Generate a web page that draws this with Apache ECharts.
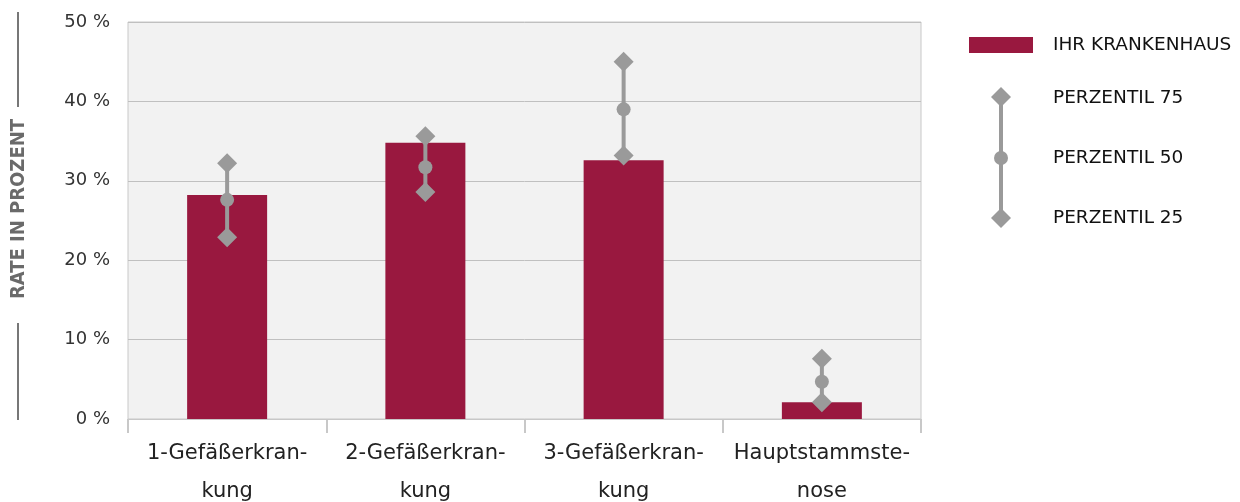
<!DOCTYPE html>
<html><head><meta charset="utf-8">
<script src="https://cdn.jsdelivr.net/npm/echarts@6/dist/echarts.min.js"></script>
<style>html,body{margin:0;padding:0;background:#fff}#c{width:1240px;height:502px}</style>
</head><body><div id="c"></div>
<script>
const categories = ['1-Gefäßerkran-\nkung', '2-Gefäßerkran-\nkung', '3-Gefäßerkran-\nkung', 'Hauptstammste-\nnose'];
const hospital = [28.2, 34.8, 32.6, 2.1];
const p75 = [32.2, 35.6, 45.0, 7.6];
const p50 = [27.6, 31.7, 39.0, 4.7];
const p25 = [22.9, 28.6, 33.2, 2.1];
const yTicks = [0, 10, 20, 30, 40, 50];

const GRAY = '#9a9a9a';
const BAR = '#99183f';
const FONT = 'DejaVu Sans';

const chart = echarts.init(document.getElementById('c'), null, {renderer: 'canvas'});
chart.setOption({
  animation: false,
  textStyle: {fontFamily: FONT},
  grid: {left: 128, right: 319, top: 22, bottom: 83, containLabel: false, outerBoundsMode: 'none',
    show: true, backgroundColor: '#f2f2f2', borderColor: '#c8c8c8', borderWidth: 1},
  xAxis: {
    type: 'category', data: categories,
    axisLine: {lineStyle: {color: '#c8c8c8', width: 1}},
    axisTick: {show: true, length: 14, lineStyle: {color: '#c8c8c8', width: 2}},
    axisLabel: {interval: 0, fontSize: 21, color: '#222', lineHeight: 38, margin: 16, fontFamily: FONT}
  },
  yAxis: {
    type: 'value', min: yTicks[0], max: yTicks[yTicks.length - 1], interval: 10,
    axisLine: {show: false}, axisTick: {show: false},
    splitLine: {lineStyle: {color: '#c0c0c0', width: 1}},
    axisLabel: {formatter: '{value} %', fontSize: 18, color: '#333', margin: 18, fontFamily: FONT}
  },
  series: [
    {name: 'IHR KRANKENHAUS', type: 'bar', data: hospital, barWidth: 80, itemStyle: {color: BAR}},
    {name: 'range', type: 'custom', z: 3,
      data: categories.map((c, i) => [i, p25[i], p75[i]]),
      renderItem: function (params, api) {
        const a = api.coord([api.value(0), api.value(1)]);
        const b = api.coord([api.value(0), api.value(2)]);
        return {type: 'line', shape: {x1: a[0], y1: a[1], x2: b[0], y2: b[1]}, style: {stroke: GRAY, lineWidth: 4}};
      }
    },
    {name: 'PERZENTIL 75', type: 'scatter', data: p75, symbol: 'diamond', symbolSize: 20, itemStyle: {color: GRAY, opacity: 1}, z: 4},
    {name: 'PERZENTIL 50', type: 'scatter', data: p50, symbol: 'circle', symbolSize: 14, itemStyle: {color: GRAY, opacity: 1}, z: 4},
    {name: 'PERZENTIL 25', type: 'scatter', data: p25, symbol: 'diamond', symbolSize: 20, itemStyle: {color: GRAY, opacity: 1}, z: 4}
  ],
  graphic: [
    {type: 'line', shape: {x1: 18, y1: 12, x2: 18, y2: 107}, style: {stroke: '#777', lineWidth: 2}},
    {type: 'line', shape: {x1: 18, y1: 323, x2: 18, y2: 420}, style: {stroke: '#777', lineWidth: 2}},
    {type: 'text', x: 19, y: 209, rotation: Math.PI / 2,
      style: {text: 'RATE IN PROZENT', fontSize: 20, fontWeight: 'bold', fill: '#6a6a6a', fontFamily: 'DejaVu Sans Condensed', align: 'center', verticalAlign: 'middle'}},
    {type: 'rect', shape: {x: 969, y: 37, width: 64, height: 16}, style: {fill: BAR}},
    {type: 'line', shape: {x1: 1001, y1: 97, x2: 1001, y2: 218}, style: {stroke: GRAY, lineWidth: 4}},
    {type: 'polygon', shape: {points: [[1001, 87], [1011, 97], [1001, 107], [991, 97]]}, style: {fill: GRAY}},
    {type: 'circle', shape: {cx: 1001, cy: 158, r: 7}, style: {fill: GRAY}},
    {type: 'polygon', shape: {points: [[1001, 208], [1011, 218], [1001, 228], [991, 218]]}, style: {fill: GRAY}},
    {type: 'text', x: 1053, y: 45, style: {text: 'IHR KRANKENHAUS', fontSize: 18.5, fill: '#111', fontFamily: FONT, verticalAlign: 'middle'}},
    {type: 'text', x: 1053, y: 98, style: {text: 'PERZENTIL 75', fontSize: 18.5, fill: '#111', fontFamily: FONT, verticalAlign: 'middle'}},
    {type: 'text', x: 1053, y: 158, style: {text: 'PERZENTIL 50', fontSize: 18.5, fill: '#111', fontFamily: FONT, verticalAlign: 'middle'}},
    {type: 'text', x: 1053, y: 218, style: {text: 'PERZENTIL 25', fontSize: 18.5, fill: '#111', fontFamily: FONT, verticalAlign: 'middle'}}
  ]
});
</script></body></html>
